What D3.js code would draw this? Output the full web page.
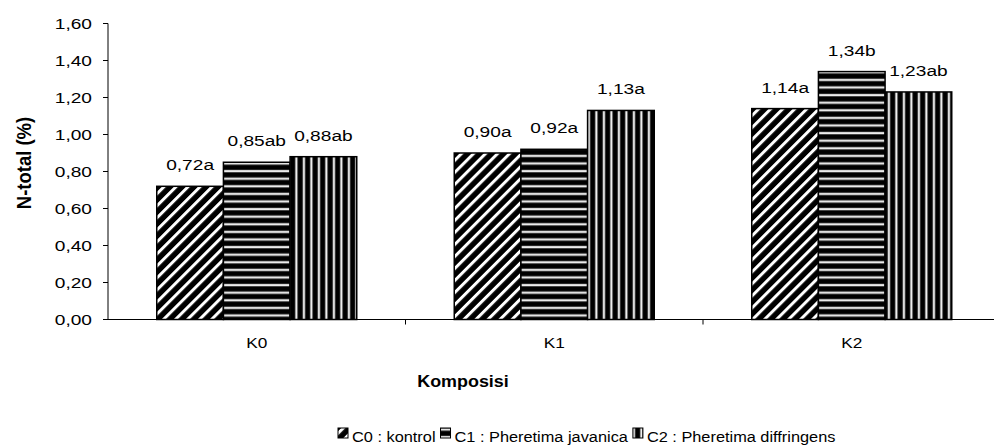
<!DOCTYPE html>
<html>
<head>
<meta charset="utf-8">
<script src="https://cdn.jsdelivr.net/npm/d3@7"></script>
<style>
  body { margin: 0; background: #fff; }
  text { font-family: "Liberation Sans", Arial, sans-serif; fill: #000; }
</style>
</head>
<body>
<svg id="chart" width="994" height="448"></svg>
<script>
// data
const categories = ["K0", "K1", "K2"];
const seriesNames = ["C0 : kontrol", "C1 : Pheretima javanica", "C2 : Pheretima diffringens"];
const c0Values = [0.72, 0.90, 1.14];
const c1Values = [0.85, 0.92, 1.34];
const c2Values = [0.88, 1.13, 1.23];
const c0Letters = ["a", "a", "a"];
const c1Letters = ["ab", "a", "b"];
const c2Letters = ["ab", "a", "ab"];
const yTicks = [0, 0.2, 0.4, 0.6, 0.8, 1.0, 1.2, 1.4, 1.6];

const seriesValues = [c0Values, c1Values, c2Values];
const seriesLetters = [c0Letters, c1Letters, c2Letters];
const patternIds = ["pat-diag", "pat-horiz", "pat-vert"];

const svg = d3.select("#chart");
const fmt = (v) => d3.format(".2f")(v).replace(".", ",");

// the original picture is stretched sideways, so text is widened a bit
const stretch = (sel, x, y, sx) =>
  sel.attr("transform", `translate(${x},${y}) scale(${sx},1)`);

// patterns
const defs = svg.append("defs");
const diag = defs.append("pattern")
  .attr("id", "pat-diag")
  .attr("patternUnits", "userSpaceOnUse")
  .attr("width", 8.5).attr("height", 8.5)
  .attr("patternTransform", "rotate(45)");
diag.append("rect").attr("width", 8.5).attr("height", 8.5).attr("fill", "#000");
diag.append("rect").attr("x", 0).attr("width", 3).attr("height", 8.5).attr("fill", "#fff");

const horiz = defs.append("pattern")
  .attr("id", "pat-horiz")
  .attr("patternUnits", "userSpaceOnUse")
  .attr("width", 8).attr("height", 7.6);
horiz.append("rect").attr("width", 8).attr("height", 7.6).attr("fill", "#000");
horiz.append("rect").attr("y", 2.6).attr("width", 8).attr("height", 2.6).attr("fill", "#999");
horiz.append("rect").attr("y", 3.2).attr("width", 8).attr("height", 1.4).attr("fill", "#fff");

const vert = defs.append("pattern")
  .attr("id", "pat-vert")
  .attr("patternUnits", "userSpaceOnUse")
  .attr("width", 7.5).attr("height", 8);
vert.append("rect").attr("width", 7.5).attr("height", 8).attr("fill", "#000");
vert.append("rect").attr("x", 2.6).attr("width", 2.6).attr("height", 8).attr("fill", "#999");
vert.append("rect").attr("x", 3.2).attr("width", 1.4).attr("height", 8).attr("fill", "#fff");

// scales
const plotLeft = 108, plotRight = 1000.5, plotTop = 23.5, plotBottom = 319.5;
const x = d3.scaleBand().domain(categories).range([plotLeft, plotRight]).padding(0);
const groupWidth = 200;
const xs = d3.scaleBand().domain(d3.range(seriesNames.length)).range([0, groupWidth]).padding(0);
const groupOffset = (x.bandwidth() - groupWidth) / 2;
const y = d3.scaleLinear().domain([0, 1.6]).range([plotBottom, plotTop]);

// bars
const rows = [];
seriesValues.forEach((vals, s) => {
  vals.forEach((v, i) => rows.push({ cat: categories[i], s, v, letter: seriesLetters[s][i] }));
});

svg.append("g")
  .selectAll("rect")
  .data(rows)
  .enter()
  .append("rect")
  .attr("x", (d) => x(d.cat) + groupOffset + xs(d.s))
  .attr("y", (d) => y(d.v))
  .attr("width", xs.bandwidth())
  .attr("height", (d) => y(0) - y(d.v))
  .attr("fill", (d) => `url(#${patternIds[d.s]})`)
  .attr("stroke", "#000")
  .attr("stroke-width", 1.5);

// value labels
svg.append("g")
  .selectAll("text")
  .data(rows)
  .enter()
  .append("text")
  .attr("text-anchor", "middle")
  .attr("font-size", 14.5)
  .each(function (d) {
    stretch(d3.select(this), x(d.cat) + groupOffset + xs(d.s) + xs.bandwidth() / 2, y(d.v) - 16, 1.32);
  })
  .text((d) => fmt(d.v) + d.letter);

// y axis
const yAxis = svg.append("g");
yAxis.append("line")
  .attr("x1", plotLeft).attr("x2", plotLeft)
  .attr("y1", y(1.6)).attr("y2", y(0))
  .attr("stroke", "#000");
yAxis.selectAll(".tick")
  .data(yTicks)
  .enter()
  .append("line")
  .attr("x1", plotLeft - 5).attr("x2", plotLeft)
  .attr("y1", (d) => y(d)).attr("y2", (d) => y(d))
  .attr("stroke", "#000");
yAxis.selectAll(".lbl")
  .data(yTicks)
  .enter()
  .append("text")
  .attr("text-anchor", "end")
  .attr("font-size", 14.5)
  .each(function (d) { stretch(d3.select(this), 92, y(d) + 5, 1.32); })
  .text((d) => fmt(d));

// x axis
const xAxis = svg.append("g");
xAxis.append("line")
  .attr("x1", plotLeft).attr("x2", plotRight)
  .attr("y1", plotBottom).attr("y2", plotBottom)
  .attr("stroke", "#000");
xAxis.selectAll(".tick")
  .data(categories)
  .enter()
  .append("line")
  .attr("x1", (d) => x(d) + x.bandwidth()).attr("x2", (d) => x(d) + x.bandwidth())
  .attr("y1", plotBottom).attr("y2", plotBottom + 5)
  .attr("stroke", "#000");
xAxis.selectAll(".lbl")
  .data(categories)
  .enter()
  .append("text")
  .attr("text-anchor", "middle")
  .attr("font-size", 15)
  .each(function (d) { stretch(d3.select(this), x(d) + x.bandwidth() / 2, 348, 1.15); })
  .text((d) => d);

// axis titles
svg.append("text")
  .attr("text-anchor", "middle")
  .attr("font-size", 16)
  .attr("font-weight", "bold")
  .attr("transform", "translate(463,387) scale(1.12,1)")
  .text("Komposisi");

svg.append("text")
  .attr("text-anchor", "middle")
  .attr("font-size", 18.5)
  .attr("font-weight", "bold")
  .attr("transform", "translate(31,163) scale(1.05,1) rotate(-90)")
  .text("N-total (%)");

// legend
const legend = svg.append("g");
let lx = 338;
seriesNames.forEach((name, s) => {
  legend.append("rect")
    .attr("x", lx).attr("y", 428)
    .attr("width", 10).attr("height", 10)
    .attr("fill", `url(#${patternIds[s]})`)
    .attr("stroke", "#000");
  const t = legend.append("text")
    .attr("font-size", 15)
    .text(name);
  stretch(t, lx + 14, 442, 1.09);
  lx += 14 + t.node().getComputedTextLength() * 1.09 + 5;
});
</script>
</body>
</html>
